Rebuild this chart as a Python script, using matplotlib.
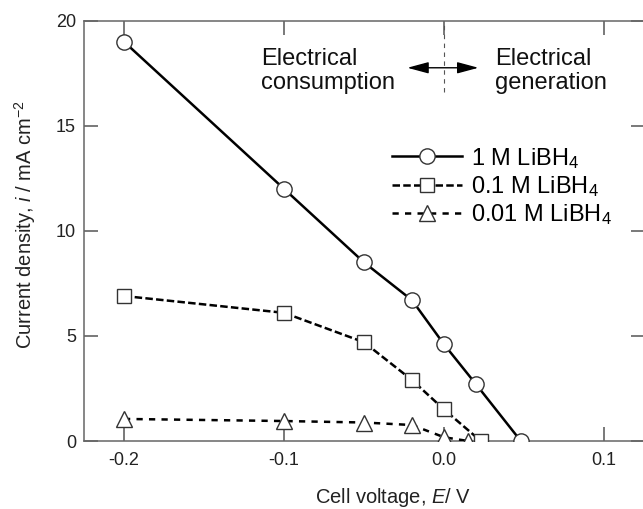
import matplotlib
matplotlib.use("Agg")
import matplotlib.pyplot as plt

# data
e_1m = [-0.2, -0.1, -0.05, -0.02, 0.0, 0.02, 0.048]
i_1m = [19.0, 12.0, 8.5, 6.7, 4.6, 2.7, 0.0]

e_01m = [-0.2, -0.1, -0.05, -0.02, 0.0, 0.023]
i_01m = [6.9, 6.1, 4.7, 2.9, 1.5, 0.0]

e_001m = [-0.2, -0.1, -0.05, -0.02, 0.0, 0.015]
i_001m = [1.05, 0.95, 0.88, 0.76, 0.18, 0.0]

labels = ["1 M LiBH$_4$", "0.1 M LiBH$_4$", "0.01 M LiBH$_4$"]
xticks = [-0.2, -0.1, 0.0, 0.1]
xticklabels = ["-0.2", "-0.1", "0.0", "0.1"]
yticks = [0, 5, 10, 15, 20]

plt.rcParams["font.family"] = ["Liberation Sans", "DejaVu Sans"]
plt.rcParams["mathtext.fontset"] = "custom"
plt.rcParams["mathtext.rm"] = "Liberation Sans"
plt.rcParams["mathtext.it"] = "Liberation Sans:italic"

W, H = 643, 509
fig = plt.figure(figsize=(W / 100, H / 100), dpi=100)
left, right, top, bottom = 84.3, 644.5, 20.7, 441.0
ax = fig.add_axes([left / W, 1 - bottom / H, (right - left) / W, (bottom - top) / H])

mk = dict(markerfacecolor="white", markeredgecolor="#333333", markeredgewidth=1.0, zorder=3)
ax.plot(e_1m, i_1m, "-", color="black", lw=1.8, marker="o", markersize=11, label=labels[0], **mk)
ax.plot(e_01m, i_01m, color="black", lw=1.8, ls=(0, (3, 1.3)), marker="s", markersize=10, label=labels[1], **mk)
ax.plot(e_001m, i_001m, color="black", lw=1.8, ls=(0, (2.5, 2.5)), marker="^", markersize=11, label=labels[2], **mk)

ax.set_xlim(-0.2248, 0.1253)
ax.set_ylim(0, 20)
ax.set_xticks(xticks)
ax.set_xticklabels(xticklabels)
ax.set_yticks(yticks)

for s in ax.spines.values():
    s.set_color("#666666")
    s.set_linewidth(1.1)
ax.tick_params(direction="in", length=10, width=1.1, color="#555555", top=True, right=True,
               labelsize=13, labelcolor="#222222")
ax.tick_params(axis="x", pad=8)
ax.tick_params(axis="y", pad=6)

# boundary between consumption and generation
ax.plot([0, 0], [16.6, 20], ls=(0, (4, 4)), color="#555555", lw=0.8, zorder=1)
ax.annotate("", xy=(0.0215, 17.76), xytext=(-0.0229, 17.76),
            arrowprops=dict(arrowstyle="<|-|>,head_length=1.3,head_width=0.35", color="black",
                            lw=1.0, mutation_scale=10, shrinkA=0, shrinkB=0))
ax.text(-0.1144, 16.74, "Electrical\nconsumption", fontsize=17, va="baseline", ha="left",
        linespacing=1.13, color="#111111")
ax.text(0.032, 16.74, "Electrical\ngeneration", fontsize=17, va="baseline", ha="left",
        linespacing=1.13, color="#111111")

fig.text(393 / W, 1 - 503 / H, "Cell voltage, $E$/ V", fontsize=14.5, ha="center", va="baseline", color="#222222")
fig.text(25 / W, 1 - 224 / H, "Current density, $i$ / mA cm$^{-2}$", fontsize=14.5, rotation=90,
         ha="center", va="center", color="#222222")

ax.legend(loc="center left", bbox_to_anchor=(392 / W, 1 - 186.5 / H), bbox_transform=fig.transFigure,
          frameon=False, fontsize=17, handlelength=2.95, handletextpad=0.4, labelspacing=0.15,
          borderpad=0, borderaxespad=0, numpoints=1)

fig.savefig("out.png", dpi=100)
